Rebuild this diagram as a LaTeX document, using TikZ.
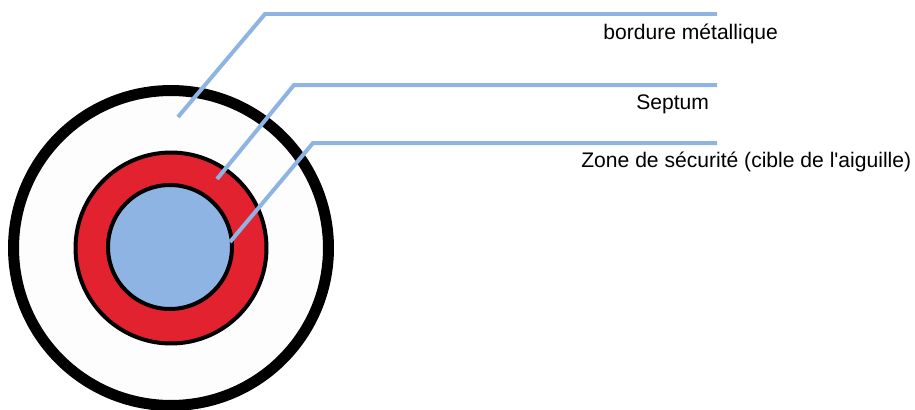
\documentclass[tikz,border=0pt]{standalone}
\usepackage{fontspec}
\setmainfont{Liberation Sans}[Ligatures=TeXOff]
\usetikzlibrary{positioning}
\definecolor{leaderblue}{RGB}{141, 180, 226}
\definecolor{septumred}{RGB}{226, 34, 47}
\definecolor{rimwhite}{RGB}{253, 253, 253}

\begin{document}
\begin{tikzpicture}[
      x=0.02cm, y=-0.02cm,
      font=\fontsize{12pt}{14pt}\selectfont,
      disc/.style={circle, draw=black, inner sep=0pt, outer sep=0pt},
      leader/.style={draw=leaderblue, line width=0.08cm},
      label/.style={anchor=base west, inner sep=0pt, text=black}
  ]
  \useasboundingbox (0,0) rectangle (915,409);

  % Nodes
  \node[disc, fill=rimwhite, line width=0.22cm, minimum size=6.3cm] (rim) at (171,248) {};
  \node[disc, fill=septumred, line width=0.08cm, minimum size=3.82cm] (septum) at (171,248) {};
  \node[disc, fill=leaderblue, line width=0.08cm, minimum size=2.48cm] (target) at (170,247) {};

  % Leader points
  \coordinate (rimpt) at (178,117);
  \coordinate (rimbend) at (265,14);
  \coordinate (rimend) at (717,14);
  \coordinate (septpt) at (217,179);
  \coordinate (septbend) at (294,85);
  \coordinate (septend) at (717,85);
  \coordinate (zonept) at (230,242);
  \coordinate (zonebend) at (313,143);
  \coordinate (zoneend) at (717,143);

  % Leaders
  \draw[leader] (rimpt) -- (rimbend) -- (rimend);
  \draw[leader] (septpt) -- (septbend) -- (septend);
  \draw[leader] (zonept) -- (zonebend) -- (zoneend);

  % Labels
  \node[label] (rimlabel) at (603,39) {bordure métallique};
  \node[label] (septlabel) at (636,109) {Septum};
  \node[label] (zonelabel) at (581,167) {Zone de sécurité (cible de l'aiguille)};

\end{tikzpicture}
\end{document}
